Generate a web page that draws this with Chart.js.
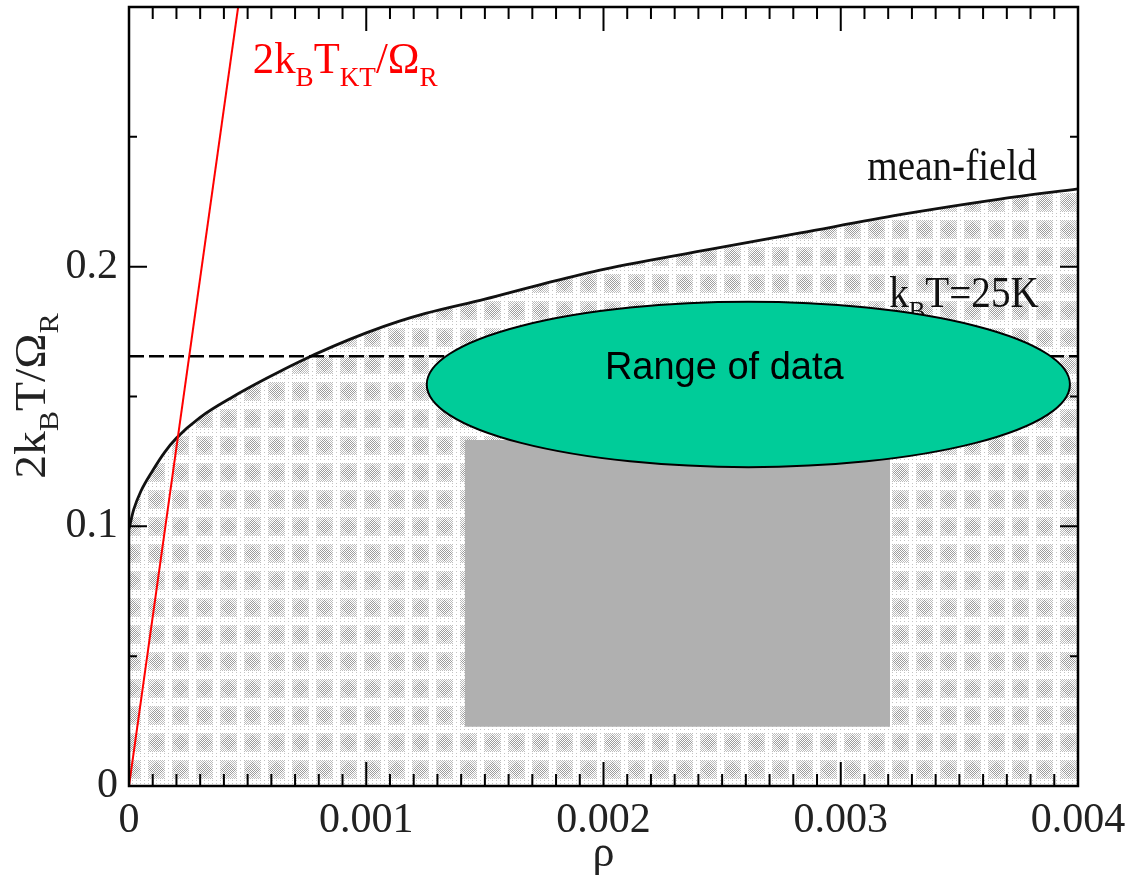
<!DOCTYPE html>
<html>
<head>
<meta charset="utf-8">
<script src="https://cdn.jsdelivr.net/npm/chart.js@4.4.1/dist/chart.umd.min.js"></script>
<style>
  html, body { margin: 0; padding: 0; background: #fff; }
  canvas { display: block; }
</style>
</head>
<body>
<canvas id="phaseChart" width="1140" height="877"></canvas>
<script>
// mean-field curve
const meanFieldRho = [0, 0.00002, 0.00005, 0.0001, 0.00015, 0.0002, 0.0003, 0.00044, 0.00058, 0.00072,
                      0.00086, 0.001, 0.00114, 0.00125, 0.0015, 0.00175, 0.002, 0.0025, 0.00283, 0.00325,
                      0.00367, 0.004];
const meanFieldT = [0.099, 0.1065, 0.1135, 0.1215, 0.1285, 0.134, 0.142, 0.150, 0.157, 0.1635,
                    0.1693, 0.1745, 0.179, 0.182, 0.1875, 0.1935, 0.199, 0.2075, 0.213, 0.220,
                    0.226, 0.230];

// KT line (red)
const ktRho = [0, 0.00046];
const ktT = [0, 0.3];

// kBT = 25K level
const roomRho = [0, 0.004];
const roomT = [0.1655, 0.1655];

// grey box (data region) and the ellipse
const boxRho = [0.001415, 0.003208];
const boxTop = [0.1332, 0.1332];
const boxBottom = 0.0228;
const ellipseRho = [0.001255, 0.003966];
const ellipseT = [0.1228, 0.1865];

const xTickLabels = ['0', '0.001', '0.002', '0.003', '0.004'];
const yTickLabels = ['0', '0.1', '0.2', ''];

const SERIF = '"Liberation Serif", "Times New Roman", serif';

function pts(xs, ys) {
    return xs.map((x, i) => ({ x: x, y: ys[i] }));
}

// dotted screen like the printed shading
function makeStipple(ctx) {
    const c = document.createElement('canvas');
    c.width = 24;
    c.height = 27;
    const g = c.getContext('2d');
    g.fillStyle = '#fff';
    g.fillRect(0, 0, 24, 27);
    for (let yy = 0; yy < 27; yy++) {
        for (let xx = 0; xx < 24; xx++) {
            const dx = xx - 12, dy = yy - 13;
            const inBlob = Math.abs(dx) < 9 && Math.abs(dy) < 10;
            const core = Math.abs(dx) + Math.abs(dy) < 8;
            if (inBlob && (xx + yy) % 2 === 0) {
                g.fillStyle = core ? '#9c9c9c' : '#bcbcbc';
                g.fillRect(xx, yy, 1, 1);
            } else if (!inBlob && xx % 4 === 0 && yy % 4 === 0) {
                g.fillStyle = '#c4c4c4';
                g.fillRect(xx, yy, 1, 1);
            }
        }
    }
    return ctx.createPattern(c, 'repeat');
}

// text with subscripts, squeezed horizontally by sx
function drawRich(ctx, runs, x, y, size, sx, align) {
    const subSize = Math.round(size * 0.64);
    const widths = runs.map(r => {
        ctx.font = (r.sub ? subSize : size) + 'px ' + SERIF;
        return ctx.measureText(r.t).width * sx;
    });
    const total = widths.reduce((a, b) => a + b, 0);
    let cx = align === 'center' ? x - total / 2 : x;
    ctx.textBaseline = 'alphabetic';
    ctx.textAlign = 'left';
    runs.forEach((r, i) => {
        ctx.font = (r.sub ? subSize : size) + 'px ' + SERIF;
        ctx.save();
        ctx.translate(cx, y + (r.sub ? size * 0.3 : 0));
        ctx.scale(sx, 1);
        ctx.fillText(r.t, 0, 0);
        ctx.restore();
        cx += widths[i];
    });
}

const annotations = {
    id: 'annotations',
    afterDatasetsDraw(chart) {
        const { ctx, chartArea: a, scales: { x, y } } = chart;
        ctx.save();

        // labels that sit under the ellipse
        ctx.fillStyle = '#111';
        drawRich(ctx, [{ t: 'mean-field' }], x.getPixelForValue(0.003112), y.getPixelForValue(0.2332), 44, 0.89, 'left');
        drawRich(ctx, [{ t: 'k' }, { t: 'B', sub: true }, { t: 'T=25K' }],
                 x.getPixelForValue(0.003204), y.getPixelForValue(0.1846), 44, 0.89, 'left');

        ctx.fillStyle = '#ff0000';
        drawRich(ctx, [{ t: '2k' }, { t: 'B', sub: true }, { t: 'T' }, { t: 'KT', sub: true },
                       { t: '/\u03A9' }, { t: 'R', sub: true }],
                 x.getPixelForValue(0.000522), y.getPixelForValue(0.2745), 44, 0.97, 'left');

        // ellipse
        const x0 = x.getPixelForValue(ellipseRho[0]), x1 = x.getPixelForValue(ellipseRho[1]);
        const y0 = y.getPixelForValue(ellipseT[1]), y1 = y.getPixelForValue(ellipseT[0]);
        ctx.beginPath();
        ctx.ellipse((x0 + x1) / 2, (y0 + y1) / 2, (x1 - x0) / 2, (y1 - y0) / 2, 0, 0, Math.PI * 2);
        ctx.fillStyle = '#00cc99';
        ctx.fill();
        ctx.lineWidth = 2;
        ctx.strokeStyle = '#000';
        ctx.stroke();

        ctx.fillStyle = '#000';
        ctx.font = '38px "Liberation Sans", Arial, sans-serif';
        ctx.textAlign = 'center';
        ctx.textBaseline = 'alphabetic';
        ctx.fillText('Range of data', x.getPixelForValue(0.002509), y.getPixelForValue(0.1568));

        // axis titles
        ctx.fillStyle = '#222';
        ctx.save();
        ctx.translate(a.left - 84, y.getPixelForValue(0.1502));
        ctx.rotate(-Math.PI / 2);
        drawRich(ctx, [{ t: '2k' }, { t: 'B', sub: true }, { t: 'T/\u03A9' }, { t: 'R', sub: true }],
                 0, 0, 44, 1.08, 'center');
        ctx.restore();
        drawRich(ctx, [{ t: '\u03C1' }], x.getPixelForValue(0.002), a.bottom + 80, 44, 1, 'center');

        ctx.restore();
    }
};

const frameTicks = {
    id: 'frameTicks',
    afterDatasetsDraw(chart) {
        const { ctx, chartArea: a, scales: { x, y } } = chart;
        ctx.save();
        ctx.strokeStyle = '#000';
        ctx.lineWidth = 2;
        ctx.beginPath();
        for (let i = 0; i <= 40; i++) {
            const px = x.getPixelForValue(i * 0.0001);
            const len = i % 10 === 0 ? 24 : 12;
            ctx.moveTo(px, a.bottom);
            ctx.lineTo(px, a.bottom - len);
            ctx.moveTo(px, a.top);
            ctx.lineTo(px, a.top + len);
        }
        for (let i = 0; i <= 6; i++) {
            const py = y.getPixelForValue(i * 0.05);
            const len = i % 2 === 0 ? 18 : 8;
            ctx.moveTo(a.left, py);
            ctx.lineTo(a.left + len, py);
            ctx.moveTo(a.right, py);
            ctx.lineTo(a.right - len, py);
        }
        ctx.stroke();
        ctx.lineWidth = 2.5;
        ctx.strokeRect(a.left, a.top, a.right - a.left, a.bottom - a.top);
        ctx.restore();
    }
};

const canvas = document.getElementById('phaseChart');
const stipple = makeStipple(canvas.getContext('2d'));

new Chart(canvas, {
    type: 'line',
    data: {
        datasets: [
            {
                label: 'mean-field',
                data: pts(meanFieldRho, meanFieldT),
                borderColor: '#111',
                borderWidth: 2.8,
                backgroundColor: stipple,
                fill: 'origin',
                pointRadius: 0,
                cubicInterpolationMode: 'monotone',
                order: 5
            },
            {
                label: 'kBT=25K',
                data: pts(roomRho, roomT),
                borderColor: '#000',
                borderWidth: 2.5,
                borderDash: [15, 5],
                pointRadius: 0,
                fill: false,
                order: 4
            },
            {
                label: '2kBTKT/OmegaR',
                data: pts(ktRho, ktT),
                borderColor: '#ff0000',
                borderWidth: 2,
                pointRadius: 0,
                fill: false,
                order: 3
            },
            {
                label: 'data box',
                data: pts(boxRho, boxTop),
                borderColor: 'rgba(0,0,0,0)',
                borderWidth: 0,
                backgroundColor: '#b0b0b0',
                fill: { value: boxBottom },
                pointRadius: 0,
                order: 2
            }
        ]
    },
    options: {
        responsive: false,
        animation: false,
        layout: { padding: { top: 7, right: 62, left: 0, bottom: 0 } },
        plugins: {
            legend: { display: false },
            tooltip: { enabled: false }
        },
        scales: {
            x: {
                type: 'linear',
                min: 0,
                max: 0.004,
                grid: { display: false, drawTicks: false },
                border: { display: false },
                ticks: {
                    stepSize: 0.001,
                    padding: 10,
                    maxRotation: 0,
                    color: '#222',
                    font: { family: SERIF, size: 42 },
                    callback: (v, i) => xTickLabels[i]
                },
                afterFit: s => { s.height = 91; s.paddingLeft = 0; s.paddingRight = 0; }
            },
            y: {
                type: 'linear',
                min: 0,
                max: 0.3,
                grid: { display: false, drawTicks: false },
                border: { display: false },
                ticks: {
                    stepSize: 0.1,
                    padding: 11,
                    color: '#222',
                    font: { family: SERIF, size: 42 },
                    callback: (v, i) => yTickLabels[i]
                },
                afterFit: s => { s.width = 129; s.paddingTop = 0; s.paddingBottom = 0; }
            }
        }
    },
    plugins: [annotations, frameTicks]
});
</script>
</body>
</html>
